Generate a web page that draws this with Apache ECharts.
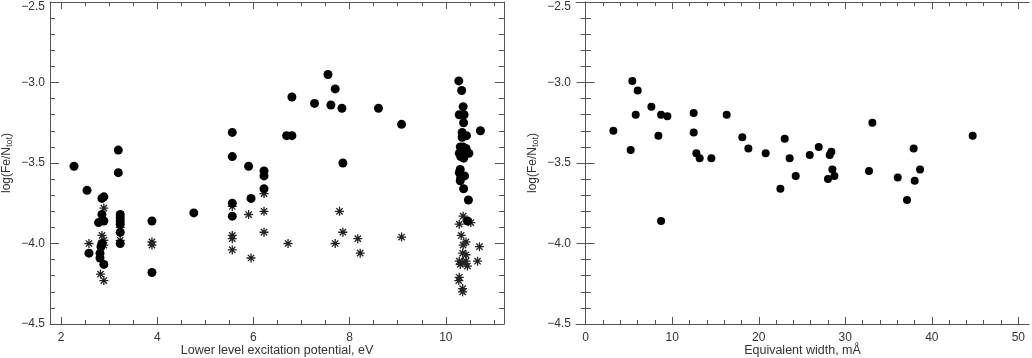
<!DOCTYPE html>
<html>
<head>
<meta charset="utf-8">
<script src="https://cdn.jsdelivr.net/npm/echarts@6/dist/echarts.min.js"></script>
<style>
  html, body { margin: 0; padding: 0; background: #fff; }
  #chart { width: 1032px; height: 358px; }
</style>
</head>
<body>
<div id="chart"></div>
<script>
// left panel: excitation potential (eV) vs log abundance
var excDots = [
  [2.27,-3.52],[2.54,-3.67],[2.58,-4.06],
  [2.85,-3.72],[2.89,-3.71],[2.85,-3.82],[2.78,-3.87],[2.89,-3.86],[2.85,-4.00],[2.83,-4.02],[2.81,-4.06],[2.81,-4.09],[2.89,-4.13],
  [3.19,-3.42],[3.19,-3.56],[3.23,-3.82],[3.23,-3.84],[3.23,-3.86],[3.23,-3.88],[3.23,-3.93],[3.23,-4.00],
  [3.89,-3.86],[3.89,-4.18],[4.76,-3.81],
  [5.56,-3.31],[5.56,-3.46],[5.56,-3.75],[5.56,-3.83],
  [5.90,-3.52],[5.95,-3.72],
  [6.22,-3.55],[6.22,-3.58],[6.22,-3.66],
  [6.69,-3.33],[6.80,-3.33],[6.80,-3.09],
  [7.27,-3.13],[7.55,-2.95],[7.70,-3.04],[7.61,-3.14],[7.84,-3.16],[7.86,-3.50],
  [8.60,-3.16],[9.08,-3.26],
  [10.27,-2.99],[10.33,-3.05],[10.36,-3.15],[10.28,-3.20],[10.38,-3.20],[10.37,-3.25],[10.72,-3.30],[10.34,-3.31],[10.43,-3.33],[10.34,-3.34],
  [10.30,-3.40],[10.36,-3.40],[10.42,-3.41],[10.33,-3.43],[10.28,-3.44],[10.40,-3.44],[10.48,-3.44],[10.31,-3.46],[10.37,-3.47],[10.35,-3.45],
  [10.30,-3.54],[10.39,-3.58],[10.31,-3.59],[10.28,-3.56],[10.30,-3.61],[10.37,-3.66],[10.47,-3.73],[10.45,-3.86]
];
var excStars = [
  [2.58,-4.00],[2.89,-3.78],[2.85,-3.95],[2.89,-3.98],[2.89,-4.01],[2.82,-4.19],[2.89,-4.23],
  [3.23,-3.90],[3.23,-3.98],
  [3.89,-3.99],[3.89,-4.01],
  [5.56,-3.77],[5.56,-3.95],[5.56,-3.97],[5.56,-4.04],
  [5.90,-3.82],[5.95,-4.09],
  [6.22,-3.69],[6.22,-3.80],[6.22,-3.93],
  [6.72,-4.00],[7.70,-4.00],[7.79,-3.80],[7.86,-3.93],[8.17,-3.97],[8.22,-4.06],[9.08,-3.96],
  [10.36,-3.83],[10.28,-3.88],[10.52,-3.87],[10.32,-3.95],[10.42,-3.99],[10.36,-4.01],[10.70,-4.02],[10.35,-4.06],[10.42,-4.07],
  [10.28,-4.11],[10.35,-4.12],[10.42,-4.11],[10.45,-4.14],[10.30,-4.13],[10.66,-4.11],[10.28,-4.21],[10.27,-4.23],[10.35,-4.28],[10.35,-4.30]
];
// right panel: equivalent width (mA) vs log abundance
var ewDots = [
  [3.20,-3.30],[5.20,-3.42],[5.39,-2.99],[6.01,-3.05],[5.78,-3.20],[7.59,-3.15],[8.40,-3.33],[8.71,-3.20],[8.71,-3.86],[9.44,-3.21],
  [12.48,-3.19],[12.48,-3.31],[12.79,-3.44],[13.17,-3.47],[14.52,-3.47],[16.29,-3.20],[18.10,-3.34],[18.80,-3.41],[20.80,-3.44],
  [22.50,-3.66],[23.00,-3.35],[23.57,-3.47],[24.27,-3.58],[25.89,-3.45],[26.93,-3.40],[28.00,-3.60],[28.20,-3.45],[28.39,-3.43],
  [28.51,-3.54],[28.74,-3.58],[32.74,-3.55],[33.13,-3.25],[36.06,-3.59],[37.13,-3.73],[37.90,-3.41],[38.02,-3.61],[38.64,-3.54],[44.72,-3.33]
];

var excTicks = [2, 4, 6, 8, 10];
var excMinor = [2.5, 3, 3.5, 4.5, 5, 5.5, 6.5, 7, 7.5, 8.5, 9, 9.5, 10.5, 11];
var ewTicks = [0, 10, 20, 30, 40, 50];
var ewMinor = [];
for (var v = 0; v <= 50; v += 2) { if (v % 10 !== 0) ewMinor.push(v); }

var axisCol = '#555';
var textCol = '#333';
var font = 'Liberation Sans';

function xAxes(grid, min, max, major, minor, name) {
  var base = { type: 'value', gridIndex: grid, min: min, max: max, splitLine: { show: false } };
  return [
    Object.assign({}, base, {
      position: 'bottom', name: name, nameLocation: 'middle', nameGap: 20, nameMoveOverlap: false,
      nameTextStyle: { color: textCol, fontFamily: font, fontSize: 12.5 },
      axisLine: { show: true, lineStyle: { color: axisCol } },
      axisTick: { show: true, inside: true, length: 7, customValues: major, lineStyle: { color: axisCol } },
      axisLabel: { show: true, customValues: major, margin: 8, color: textCol, fontFamily: font, fontSize: 12 }
    }),
    Object.assign({}, base, {
      position: 'bottom',
      axisLine: { show: false },
      axisTick: { show: true, inside: true, length: 4, customValues: minor, lineStyle: { color: axisCol } },
      axisLabel: { show: false }
    }),
    Object.assign({}, base, {
      position: 'top',
      axisLine: { show: true, lineStyle: { color: axisCol } },
      axisTick: { show: true, inside: true, length: 7, customValues: major, lineStyle: { color: axisCol } },
      axisLabel: { show: false }
    }),
    Object.assign({}, base, {
      position: 'top',
      axisLine: { show: false },
      axisTick: { show: true, inside: true, length: 4, customValues: minor, lineStyle: { color: axisCol } },
      axisLabel: { show: false }
    })
  ];
}

function yAxes(grid) {
  var base = { type: 'value', gridIndex: grid, min: -4.5, max: -2.5, interval: 0.5, splitLine: { show: false } };
  return [
    Object.assign({}, base, {
      position: 'left',
      name: '{n|log(Fe/N}{s|tot}{n|)}', nameLocation: 'middle', nameGap: 36, nameMoveOverlap: false,
      nameTextStyle: { rich: {
        n: { color: textCol, fontFamily: font, fontSize: 12 },
        s: { color: textCol, fontFamily: font, fontSize: 9, verticalAlign: 'bottom', padding: [5, 0, 0, 0] }
      } },
      axisLine: { show: true, lineStyle: { color: axisCol } },
      axisTick: { show: true, inside: true, length: 9, lineStyle: { color: axisCol } },
      minorTick: { show: true, splitNumber: 5, length: 5, lineStyle: { color: axisCol } },
      axisLabel: { margin: 5, color: textCol, fontFamily: font, fontSize: 12,
        rich: { t: { color: textCol, fontFamily: font, fontSize: 12, padding: [9, 0, 0, 0] } },
        formatter: function (val) {
          var s = val.toFixed(1).replace('-', '\u2212');
          // the top label sits a little below its tick, as in the original
          return val === -2.5 ? '{t|' + s + '}' : s;
        } }
    }),
    Object.assign({}, base, {
      position: 'right',
      axisLine: { show: true, lineStyle: { color: axisCol } },
      axisTick: { show: true, inside: true, length: 9, lineStyle: { color: axisCol } },
      minorTick: { show: true, splitNumber: 5, length: 5, lineStyle: { color: axisCol } },
      axisLabel: { show: false }
    })
  ];
}

var star = 'path://M0,5L10,5M5,0L5,10M1.5,1.5L8.5,8.5M1.5,8.5L8.5,1.5';

var chart = echarts.init(document.getElementById('chart'), null, { renderer: 'canvas' });
chart.setOption({
  animation: false,
  backgroundColor: '#fff',
  grid: [
    { left: 50, top: 2, width: 454, height: 322, outerBoundsMode: 'none', containLabel: false },
    { left: 576, top: 2, width: 453, height: 322, outerBoundsMode: 'none', containLabel: false }
  ],
  xAxis: xAxes(0, 1.77, 11.21, excTicks, excMinor, 'Lower level excitation potential, eV')
    .concat(xAxes(1, -1.12, 51.23, ewTicks, ewMinor, 'Equivalent width, m\u00c5')),
  yAxis: yAxes(0).concat(yAxes(1)),
  series: [
    {
      type: 'scatter', xAxisIndex: 0, yAxisIndex: 0, data: excStars,
      symbol: star, symbolSize: 9,
      itemStyle: { color: 'transparent', borderColor: '#222', borderWidth: 1.3, opacity: 1 }
    },
    {
      type: 'scatter', xAxisIndex: 0, yAxisIndex: 0, data: excDots,
      symbol: 'circle', symbolSize: 9, itemStyle: { color: '#000', opacity: 1 }
    },
    {
      type: 'scatter', xAxisIndex: 4, yAxisIndex: 2, data: ewDots,
      symbol: 'circle', symbolSize: 8, itemStyle: { color: '#000', opacity: 1 }
    }
  ]
});
</script>
</body>
</html>
